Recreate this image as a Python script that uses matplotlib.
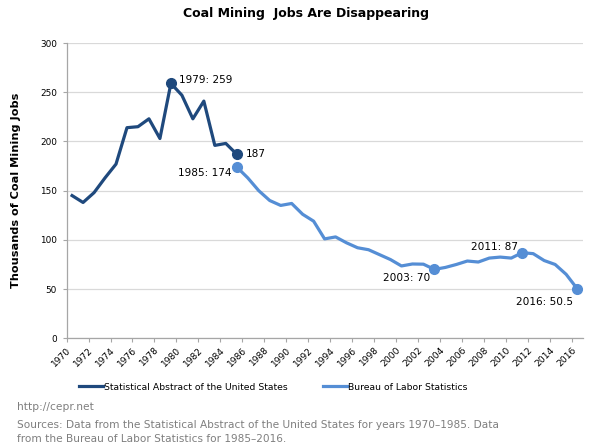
import matplotlib
matplotlib.use("Agg")
import matplotlib.pyplot as plt
import numpy as np

# Data
sa_years = list(range(1970, 1986))
sa_values = [145, 138, 148, 163, 177, 214, 215, 223, 203, 259, 247, 223, 241, 196, 198, 187]
bls_years = list(range(1985, 2017))
bls_values = [174, 163, 150, 140, 135, 137, 126, 119, 101, 103, 97, 92, 90, 85, 80, 73.5,
              75.5, 75.3, 70, 72, 75, 78.5, 77.5, 81.5, 82.5, 81.5, 87, 86, 79, 75, 65, 50.5]
tick_years = list(range(1970, 2017, 2))
y_ticks = [0, 50, 100, 150, 200, 250, 300]

sa_marks = {1979: "1979: 259", 1985: "187"}
bls_marks = {1985: "1985: 174", 2003: "2003: 70", 2011: "2011: 87", 2016: "2016: 50.5"}

dark = "#1F497D"
light = "#558ED5"
gray = "#D9D9D9"
fontfam = "DejaVu Sans"
plt.rcParams['font.family'] = fontfam

fig = plt.figure(figsize=(6, 4.46), dpi=100)
ax = fig.add_axes([0.111, 0.2415, 0.86, 0.662])

sx = np.array(sa_years) + 0.5
bx = np.array(bls_years) + 0.5
ax.plot(sx, sa_values, color=dark, lw=2.3, solid_joinstyle='round', zorder=3,
        label="Statistical Abstract of the United States")
ax.plot(bx, bls_values, color=light, lw=2.3, solid_joinstyle='round', zorder=3,
        label="Bureau of Labor Statistics")

for yr in sa_marks:
    ax.plot(yr + 0.5, sa_values[sa_years.index(yr)], 'o', color=dark, ms=7, zorder=4)
for yr in bls_marks:
    ax.plot(yr + 0.5, bls_values[bls_years.index(yr)], 'o', color=light, ms=7, zorder=4)

af = dict(fontsize=7.6, color="#000000", textcoords='offset points', va='center')
ax.annotate(sa_marks[1979], (1979.5, 259), xytext=(5.8, 2.7), ha='left', **af)
ax.annotate(sa_marks[1985], (1985.5, 187), xytext=(6.7, 0), ha='left', **af)
ax.annotate(bls_marks[1985], (1985.5, 174), xytext=(-3.6, -4.3), ha='right', **af)
ax.annotate(bls_marks[2003], (2003.5, 70), xytext=(-2.9, -6.5), ha='right', **af)
ax.annotate(bls_marks[2011], (2011.5, 87), xytext=(-2.9, 4.3), ha='right', **af)
ax.annotate(bls_marks[2016], (2016.5, 50.5), xytext=(-2.9, -9.4), ha='right', **af)

ax.set_xlim(1970, 2017)
ax.set_ylim(0, 300)
ax.set_yticks(y_ticks)
ax.set_yticklabels([str(v) for v in y_ticks], fontsize=6.4)
ax.set_xticks(tick_years)
ax.set_xticklabels([str(v) for v in tick_years], fontsize=6.6, rotation=45, ha='right',
                   rotation_mode='anchor')
ax.grid(axis='y', color=gray, lw=0.9)
ax.set_axisbelow(True)
for s in ['top', 'right']:
    ax.spines[s].set_visible(False)
for s in ['left', 'bottom']:
    ax.spines[s].set_color("#A6A6A6")
    ax.spines[s].set_linewidth(0.9)
ax.tick_params(axis='both', colors="#A6A6A6", length=3, width=0.8, labelcolor="#000000")
ax.tick_params(axis='x', pad=2)
ax.tick_params(axis='y', pad=4)

ax.set_ylabel("Thousands of Coal Mining Jobs", fontsize=8.1, fontweight='bold')
ax.yaxis.set_label_coords(-0.089, 0.5)

fig.text(0.51, 1 - 14 / 446, "Coal Mining  Jobs Are Disappearing", ha='center', va='center',
         fontsize=9, fontweight='bold')

leg = fig.legend(loc='center', bbox_to_anchor=(0.455, 1 - 387 / 446), ncol=2, frameon=False,
                 fontsize=6.65, handlelength=2.6, handletextpad=0.1, columnspacing=3.8)

gcol = "#7F7F7F"
fig.text(17 / 600, 1 - 407 / 446, "http://cepr.net", fontsize=7.7, color=gcol, va='center', ha='left')
fig.text(17 / 600, 1 - 425 / 446,
         "Sources: Data from the Statistical Abstract of the United States for years 1970\u20131985. Data",
         fontsize=7.6, color=gcol, va='center', ha='left')
fig.text(17 / 600, 1 - 439 / 446, "from the Bureau of Labor Statistics for 1985\u20132016.",
         fontsize=7.6, color=gcol, va='center', ha='left')

fig.savefig("out.png", dpi=100)
